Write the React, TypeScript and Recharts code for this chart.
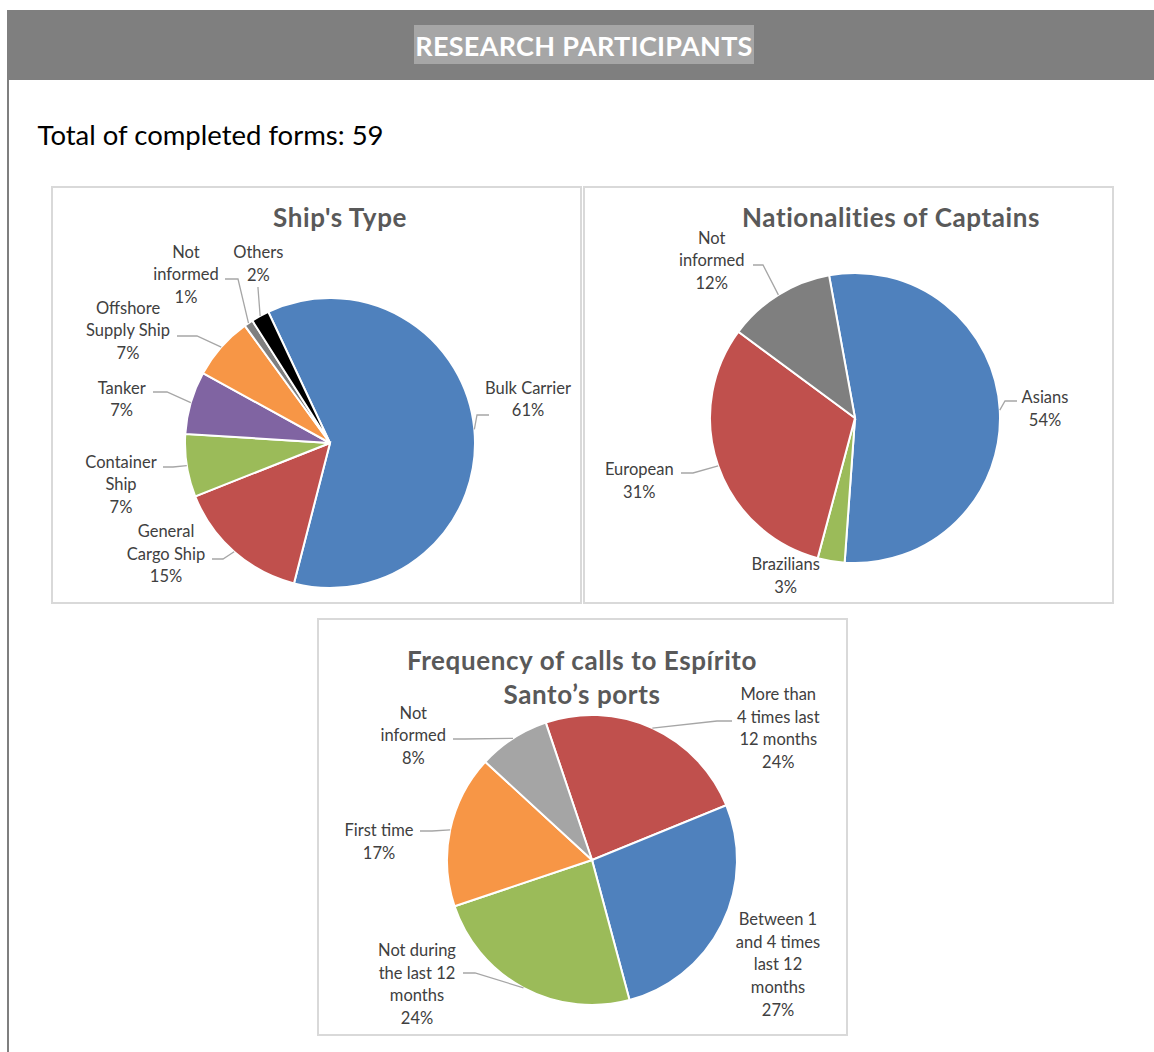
import React from 'react';
import { PieChart, Pie, Cell } from 'recharts';

// ---------- DATA ----------
const shipCategories = ['Bulk Carrier', 'General Cargo Ship', 'Container Ship', 'Tanker', 'Offshore Supply Ship', 'Not informed', 'Others'];
const shipValues = [61, 15, 7, 7, 7, 1, 2];
const shipLabelLines = [['Bulk Carrier'], ['General', 'Cargo Ship'], ['Container', 'Ship'], ['Tanker'], ['Offshore', 'Supply Ship'], ['Not', 'informed'], ['Others']];

const natCategories = ['Asians', 'Brazilians', 'European', 'Not informed'];
const natValues = [54, 3, 31, 12];
const natLabelLines = [['Asians'], ['Brazilians'], ['European'], ['Not', 'informed']];

const freqCategories = ['More than 4 times last 12 months', 'Between 1 and 4 times last 12 months', 'Not during the last 12 months', 'First time', 'Not informed'];
const freqValues = [24, 27, 24, 17, 8];
const freqLabelLines = [['More than', '4 times last', '12 months'], ['Between 1', 'and 4 times', 'last 12', 'months'], ['Not during', 'the last 12', 'months'], ['First time'], ['Not', 'informed']];

// ---------- STYLE / LAYOUT ----------
const FONT = "Lato, 'Open Sans', 'DejaVu Sans', sans-serif";
const BLUE = '#4f81bd', RED = '#c0504d', GREEN = '#9bbb59', PURPLE = '#8064a2', ORANGE = '#f79646';
const shipColors = [BLUE, RED, GREEN, PURPLE, ORANGE, '#7f7f7f', '#000000'];
const natColors = [BLUE, GREEN, RED, '#7f7f7f'];
const freqColors = [RED, BLUE, GREEN, ORANGE, '#a5a5a5'];

type LabelLayout = { dx: number; dy: number; c?: [number, number]; e?: [number, number] };

const shipLayout: LabelLayout[] = [
  { dx: 198, dy: -55.5, c: [159, -28], e: [147, -28] },
  { dx: -164, dy: 88, c: [-118, 116], e: [-107, 116] },
  { dx: -209, dy: 18.7, c: [-167, 24], e: [-157, 24] },
  { dx: -208.3, dy: -55.5, c: [-177, -51], e: [-163, -51] },
  { dx: -202, dy: -135.3, c: [-153, -107], e: [-133, -107] },
  { dx: -144, dy: -191.3, c: [-105, -164], e: [-92, -164] },
  { dx: -71.7, dy: -190.7, c: [-72, -156], e: [-72, -155] },
];
const natLayout: LabelLayout[] = [
  { dx: 190, dy: -20.7, c: [162, -17], e: [150, -17] },
  { dx: -69.3, dy: 146 },
  { dx: -215.7, dy: 51, c: [-174, 55], e: [-162, 55] },
  { dx: -143.3, dy: -180.3, c: [-102, -153], e: [-92, -153] },
];
const freqLayout: LabelLayout[] = [
  { dx: 186.3, dy: -166, c: [140, -139], e: [125, -139] },
  { dx: 186, dy: 59 },
  { dx: -175, dy: 90, c: [-129, 113], e: [-117, 113] },
  { dx: -213, dy: -30, c: [-172, -29], e: [-160, -29] },
  { dx: -178.7, dy: -147.3, c: [-139, -121], e: [-127, -121] },
];

const LABEL_SIZE = 16.5;
const LINE_H = 22.7;

function makeLabel(lines: string[][], values: number[], layout: LabelLayout[]) {
  return (props: any) => {
    const { cx, cy, midAngle, outerRadius, index } = props;
    const L = layout[index];
    const rad = Math.PI / 180;
    const ax = cx + outerRadius * Math.cos(-midAngle * rad);
    const ay = cy + outerRadius * Math.sin(-midAngle * rad);
    const textLines = [...lines[index], `${values[index]}%`];
    return (
      <g key={`lbl-${index}`}>
        {L.c && L.e && (
          <polyline
            points={`${ax},${ay} ${cx + L.e[0]},${cy + L.e[1]} ${cx + L.c[0]},${cy + L.c[1]}`}
            fill="none"
            stroke="#a6a6a6"
            strokeWidth={1.3}
          />
        )}
        <text
          x={cx + L.dx}
          y={cy + L.dy}
          textAnchor="middle"
          dominantBaseline="central"
          fill="#404040"
          fontSize={LABEL_SIZE}
          fontFamily={FONT}
        >
          {textLines.map((t, i) => (
            <tspan key={i} x={cx + L.dx} y={cy + L.dy + i * LINE_H} dominantBaseline="central">
              {t}
            </tspan>
          ))}
        </text>
      </g>
    );
  };
}

function toData(cats: string[], vals: number[]) {
  return cats.map((name, i) => ({ name, value: vals[i] }));
}

type PanelProps = {
  left: number; top: number;
  cats: string[]; vals: number[]; colors: string[];
  lines: string[][]; layout: LabelLayout[];
  cx: number; cy: number; startAngle: number;
};

const PANEL_W = 531, PANEL_H = 418, BORDER = 2;

function PiePanel(p: PanelProps) {
  return (
    <div
      style={{
        position: 'absolute', left: p.left, top: p.top, width: PANEL_W, height: PANEL_H,
        boxSizing: 'border-box', border: `${BORDER}px solid #d9d9d9`, background: '#fff',
      }}
    >
      <PieChart width={PANEL_W - 2 * BORDER} height={PANEL_H - 2 * BORDER} margin={{ top: 0, right: 0, bottom: 0, left: 0 }}>
        <Pie
          data={toData(p.cats, p.vals)}
          dataKey="value"
          nameKey="name"
          cx={p.cx}
          cy={p.cy}
          outerRadius={145}
          startAngle={p.startAngle}
          endAngle={p.startAngle - 360}
          stroke="#ffffff"
          strokeWidth={2}
          isAnimationActive={false}
          labelLine={false}
          label={makeLabel(p.lines, p.vals, p.layout)}
        >
          {p.cats.map((c, i) => (
            <Cell key={c} fill={p.colors[i]} />
          ))}
        </Pie>
      </PieChart>
    </div>
  );
}

const TITLE_STYLE = { fill: '#595959', fontWeight: 700, fontSize: 26, letterSpacing: 0.6, fontFamily: FONT } as const;

export default function App() {
  return (
    <div style={{ position: 'absolute', left: 0, top: 0, width: 1154, height: 1052, background: '#fff', fontFamily: FONT, overflow: 'hidden' }}>
      <PiePanel left={51} top={186} cats={shipCategories} vals={shipValues} colors={shipColors} lines={shipLabelLines} layout={shipLayout} cx={277} cy={255} startAngle={115.2} />
      <PiePanel left={583} top={186} cats={natCategories} vals={natValues} colors={natColors} lines={natLabelLines} layout={natLayout} cx={270} cy={230} startAngle={100.3} />
      <PiePanel left={317} top={618} cats={freqCategories} vals={freqValues} colors={freqColors} lines={freqLabelLines} layout={freqLayout} cx={273} cy={240} startAngle={108.6} />
      <svg width={1154} height={1052} style={{ position: 'absolute', left: 0, top: 0, pointerEvents: 'none' }}>
        <rect x={7} y={10} width={1147} height={70} fill="#7f7f7f" />
        <rect x={7} y={80} width={2} height={972} fill="#7f7f7f" />
        <rect x={414} y={25} width={340} height={39} fill="#a6a6a6" />
        <text x={584} y={45} textAnchor="middle" dominantBaseline="central" fill="#ffffff" fontWeight={700} fontSize={27} letterSpacing={0.3} fontFamily={FONT}>
          RESEARCH PARTICIPANTS
        </text>
        <text x={37.5} y={134} dominantBaseline="central" fill="#000000" fontSize={27.5} fontFamily={FONT}>
          Total of completed forms: 59
        </text>
        <text x={340} y={216.5} textAnchor="middle" dominantBaseline="central" {...TITLE_STYLE}>
          Ship's Type
        </text>
        <text x={891} y={216.5} textAnchor="middle" dominantBaseline="central" {...TITLE_STYLE}>
          Nationalities of Captains
        </text>
        <text x={582} y={660} textAnchor="middle" dominantBaseline="central" {...TITLE_STYLE}>
          Frequency of calls to Espírito
        </text>
        <text x={582} y={694} textAnchor="middle" dominantBaseline="central" {...TITLE_STYLE}>
          Santo’s ports
        </text>
      </svg>
    </div>
  );
}
